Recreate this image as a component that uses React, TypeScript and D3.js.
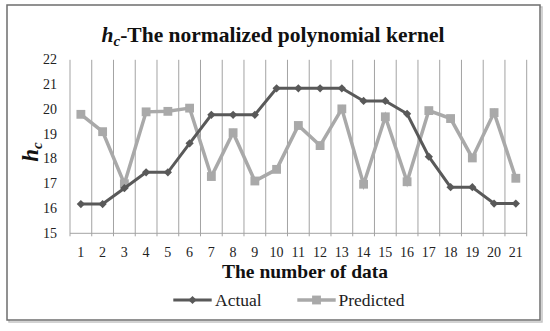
import React from "react";
import * as d3 from "d3";

const categories = ["1", "2", "3", "4", "5", "6", "7", "8", "9", "10", "11", "12", "13", "14", "15", "16", "17", "18", "19", "20", "21"];
const actual = [16.18, 16.18, 16.82, 17.46, 17.46, 18.63, 19.78, 19.78, 19.78, 20.85, 20.85, 20.85, 20.85, 20.34, 20.34, 19.82, 18.09, 16.86, 16.86, 16.2, 16.2];
const predicted = [19.8, 19.1, 17.0, 19.9, 19.92, 20.05, 17.29, 19.06, 17.11, 17.58, 19.35, 18.54, 20.02, 16.98, 19.7, 17.08, 19.95, 19.63, 18.04, 19.87, 17.22];
const yTicks = [15, 16, 17, 18, 19, 20, 21, 22];

const W = 550;
const H = 331;
const plot = { left: 70, right: 526.7, top: 59.8, bottom: 233.3 };
const font = "Liberation Serif";
const darkGray = "#595959";
const lightGray = "#a9a9a9";

const App = () => {
  const x = d3.scaleBand<string>().domain(categories).range([plot.left, plot.right]);
  const y = d3.scaleLinear().domain([15, 22]).range([plot.bottom, plot.top]);
  const cx = (c: string) => (x(c) as number) + x.bandwidth() / 2;

  const line = d3
    .line<number>()
    .x((_, i) => cx(categories[i]))
    .y((d) => y(d));

  const diamond = d3.symbol(d3.symbolSquare, 34)() as string;
  const square = d3.symbol(d3.symbolSquare, 78)() as string;

  // band boundaries for vertical gridlines
  const bounds = categories.map((c) => x(c) as number).concat([plot.right]);

  return (
    <svg width={W} height={H} style={{ position: "absolute", left: 0, top: 0, background: "#fff", fontFamily: font }}>
      {/* frame with shadow */}
      <rect x={9} y={7} width={533} height={315} fill="none" stroke="#c4c4c4" strokeWidth={1.5} />
      <rect x={7} y={5} width={533} height={315} fill="#fff" stroke="#6e6e6e" strokeWidth={1.5} />

      {/* title */}
      <text x={273} y={42} textAnchor="middle" fontSize={21.5} fontWeight="bold" fill="#111">
        <tspan fontStyle="italic">h</tspan>
        <tspan fontStyle="italic" fontSize={15} dy={4}>c</tspan>
        <tspan dy={-4}>-The normalized polynomial kernel</tspan>
      </text>

      {/* gridlines */}
      {bounds.map((b, i) => (
        <line key={i} x1={b} x2={b} y1={plot.top} y2={plot.bottom + 3} stroke="#a3a3a3" strokeWidth={1} />
      ))}
      <line x1={plot.left} x2={plot.right} y1={plot.bottom} y2={plot.bottom} stroke="#a3a3a3" strokeWidth={1} />

      {/* y ticks */}
      {yTicks.map((t) => (
        <text key={t} x={57} y={y(t) + 4.5} textAnchor="end" fontSize={14} fill="#222">
          {t}
        </text>
      ))}

      {/* x ticks */}
      {categories.map((c) => (
        <text key={c} x={cx(c)} y={257} textAnchor="middle" fontSize={14} fill="#222">
          {c}
        </text>
      ))}

      {/* axis titles */}
      <text x={305} y={278} textAnchor="middle" fontSize={19.5} fontWeight="bold" fill="#111">
        The number of data
      </text>
      <text
        transform={`translate(38,152) rotate(-90)`}
        textAnchor="middle"
        fontSize={23}
        fontWeight="bold"
        fontStyle="italic"
        fill="#111"
      >
        h<tspan fontSize={15} dy={4}>c</tspan>
      </text>

      {/* series */}
      <path d={line(predicted) as string} fill="none" stroke={lightGray} strokeWidth={3.5} />
      {predicted.map((v, i) => (
        <path key={i} d={square} transform={`translate(${cx(categories[i])},${y(v)})`} fill={lightGray} />
      ))}
      <path d={line(actual) as string} fill="none" stroke={darkGray} strokeWidth={3} />
      {actual.map((v, i) => (
        <path key={i} d={diamond} transform={`translate(${cx(categories[i])},${y(v)}) rotate(45)`} fill={darkGray} />
      ))}

      {/* legend */}
      <line x1={173.3} x2={211.7} y1={300} y2={300} stroke={darkGray} strokeWidth={3} />
      <path d={diamond} transform="translate(192.5,300) rotate(45)" fill={darkGray} />
      <text x={215} y={306} fontSize={17.5} fill="#222">
        Actual
      </text>
      <line x1={297.3} x2={335.7} y1={300} y2={300} stroke={lightGray} strokeWidth={3.5} />
      <path d={square} transform="translate(316.5,300)" fill={lightGray} />
      <text x={338.5} y={306} fontSize={17.5} fill="#222">
        Predicted
      </text>
    </svg>
  );
};

export default App;
